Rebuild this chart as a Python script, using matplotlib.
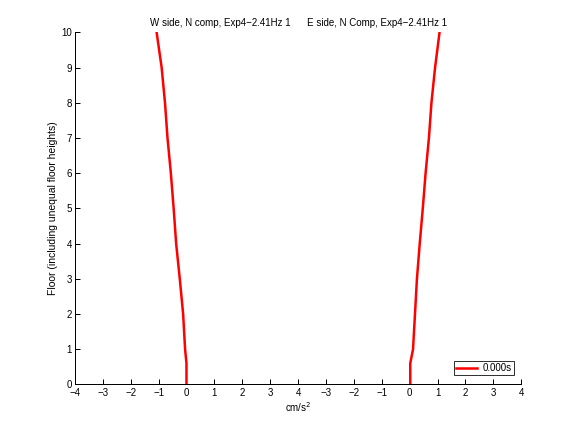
import matplotlib
matplotlib.use("Agg")
import matplotlib.pyplot as plt
import numpy as np

floors = [0, 0.6, 1, 2, 3, 4, 5, 6, 7, 8, 9, 10]
w_side = [0.0, 0.0, -0.05, -0.12, -0.24, -0.37, -0.46, -0.56, -0.68, -0.77, -0.89, -1.07]
e_side = [0.02, 0.02, 0.12, 0.19, 0.26, 0.36, 0.47, 0.57, 0.69, 0.78, 0.91, 1.07]
e_offset = 8
tick_labels = ['-4', '-3', '-2', '-1', '0', '1', '2', '3', '4',
               '-3', '-2', '-1', '0', '1', '2', '3', '4']
title = "W side, N comp, Exp4\u22122.41Hz 1      E side, N Comp, Exp4\u22122.41Hz 1"

plt.rcParams['font.family'] = ['Liberation Sans', 'DejaVu Sans']
plt.rcParams['axes.unicode_minus'] = True

fig = plt.figure(figsize=(8, 6), dpi=72)
ax = fig.add_axes([0.13, 0.11, 0.775, 0.815])

ax.plot(w_side, floors, color='red', lw=2.5, label='0.000s')
ax.plot(np.array(e_side) + e_offset, floors, color='red', lw=2.5)

ax.set_xlim(-4, 12)
ax.set_ylim(0, 10)
ax.set_xticks(np.arange(-4, 13))
ax.set_xticklabels([t.replace('-', '\u2212') for t in tick_labels])
ax.set_yticks(np.arange(0, 11))
ax.tick_params(direction='in', length=5, labelsize=9.8, width=1)
ax.tick_params(axis='x', pad=4)
ax.tick_params(axis='y', pad=3)
for s in ['top', 'right']:
    ax.spines[s].set_visible(False)
for s in ['left', 'bottom']:
    ax.spines[s].set_linewidth(1)

ax.set_title(title, fontsize=9.8, pad=6)
ax.set_xlabel('cm/s$^2$', fontsize=9.8, labelpad=2)
ax.set_ylabel('Floor (including unequal floor heights)', fontsize=10.4, labelpad=3)

leg = ax.legend(loc='lower right', fontsize=9.8, frameon=True, fancybox=False,
                edgecolor='black', handlelength=2.2, handletextpad=0.6,
                borderpad=0.2, bbox_to_anchor=(0.995, 0.012))
leg.get_frame().set_linewidth(1)

fig.savefig('out.png', dpi=72)
